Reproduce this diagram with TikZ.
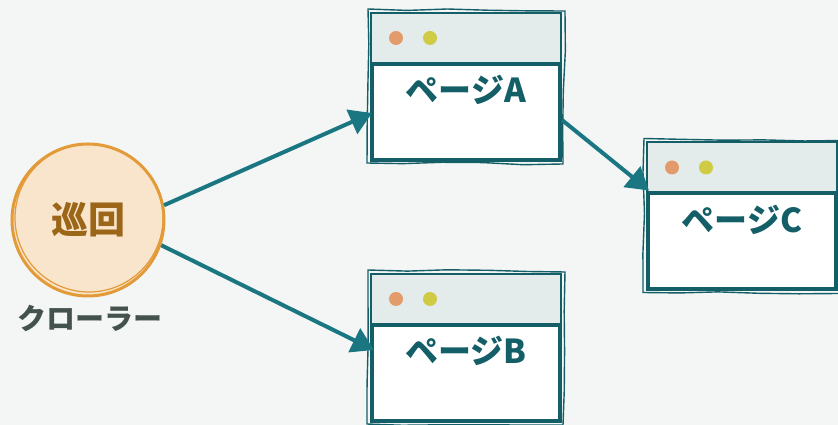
\documentclass[tikz,border=0pt]{standalone}
\usepackage{fontspec}
\newfontfamily\cjk{Noto Sans CJK JP}
\usetikzlibrary{arrows.meta,decorations.pathmorphing}
\definecolor{bg}{HTML}{F4F6F5}
\definecolor{cfill}{HTML}{F8E5CB}
\definecolor{cstroke}{HTML}{E39B3A}
\definecolor{ctext}{HTML}{9C6619}
\definecolor{lbl}{HTML}{44524E}
\definecolor{pstroke}{HTML}{135E67}
\definecolor{hdr}{HTML}{E3ECEA}
\definecolor{arr}{HTML}{1A7680}
\definecolor{dotA}{HTML}{E49B6B}
\definecolor{dotB}{HTML}{CFCB45}
\tikzset{
  crawler/.style={circle,draw=cstroke,fill=cfill,line width=3pt,minimum size=152pt,inner sep=0pt,
    font=\cjk\bfseries\fontsize{37}{40}\selectfont,text=ctext},
  lbltext/.style={font=\cjk\bfseries\fontsize{29}{31}\selectfont,text=lbl},
  pagebox/.style={rectangle,draw=pstroke,fill=white,line width=4pt,minimum width=188pt,minimum height=146pt,inner sep=0pt},
  pagetxt/.style={font=\cjk\bfseries\fontsize{33}{35}\selectfont,text=pstroke},
  sketch/.style={draw=pstroke,line width=1.4pt,decorate,decoration={random steps,segment length=40pt,amplitude=1.2pt}},
  hdrline/.style={draw=pstroke,line width=4pt},
  dotstyle/.style={circle,minimum size=14pt,inner sep=0pt},
  link/.style={draw=arr,line width=4pt,-{Triangle[length=22pt,width=26pt]}}
}
\begin{document}
\begin{tikzpicture}[x=1pt,y=1pt]
\fill[bg] (0,0) rectangle (838,425);
\useasboundingbox (0,0) rectangle (838,425);
\begin{scope}
\clip (0,0) rectangle (838,425);
% crawler
\node[crawler] (crawl) at (88,205) {巡回};
\draw[cstroke,line width=1.2pt] (89,207) circle[radius=74pt];
\node[lbltext] (clabel) at (90,107) {クローラー};

% pages
\foreach \nm/\cx/\cy/\lt in {pA/466/338/A,pB/466/77/B,pC/742/208.5/C}{
  \node[pagebox] (\nm) at (\cx,\cy) {};
  \fill[hdr] ([shift={(2pt,-2pt)}]\nm.north west) rectangle ([shift={(-2pt,-52pt)}]\nm.north east);
  \draw[hdrline] ([yshift=-52pt]\nm.north west) -- ([yshift=-52pt]\nm.north east);
  \draw[sketch] ([shift={(-2pt,3pt)}]\nm.north west) -- ([shift={(3pt,1pt)}]\nm.north east)
     -- ([shift={(1pt,-2pt)}]\nm.south east) -- ([shift={(-3pt,-1pt)}]\nm.south west) -- cycle;
  \node[dotstyle,fill=dotA] (\nm d1) at ([shift={(26pt,-26pt)}]\nm.north west) {};
  \node[dotstyle,fill=dotB] (\nm d2) at ([shift={(60pt,-26pt)}]\nm.north west) {};
  \node[pagetxt] (\nm t) at ([yshift=-78pt]\nm.north) {ページ\lt};
}

% links
\draw[link] (crawl.11) -- ([shift={(2pt,-26pt)}]pA.west);
\draw[link] (crawl.-19) -- ([shift={(4pt,-2pt)}]pB.west);
\draw[link] ([yshift=-33pt]pA.east) -- ([shift={(3pt,26pt)}]pC.west);
\end{scope}
\end{tikzpicture}
\end{document}
